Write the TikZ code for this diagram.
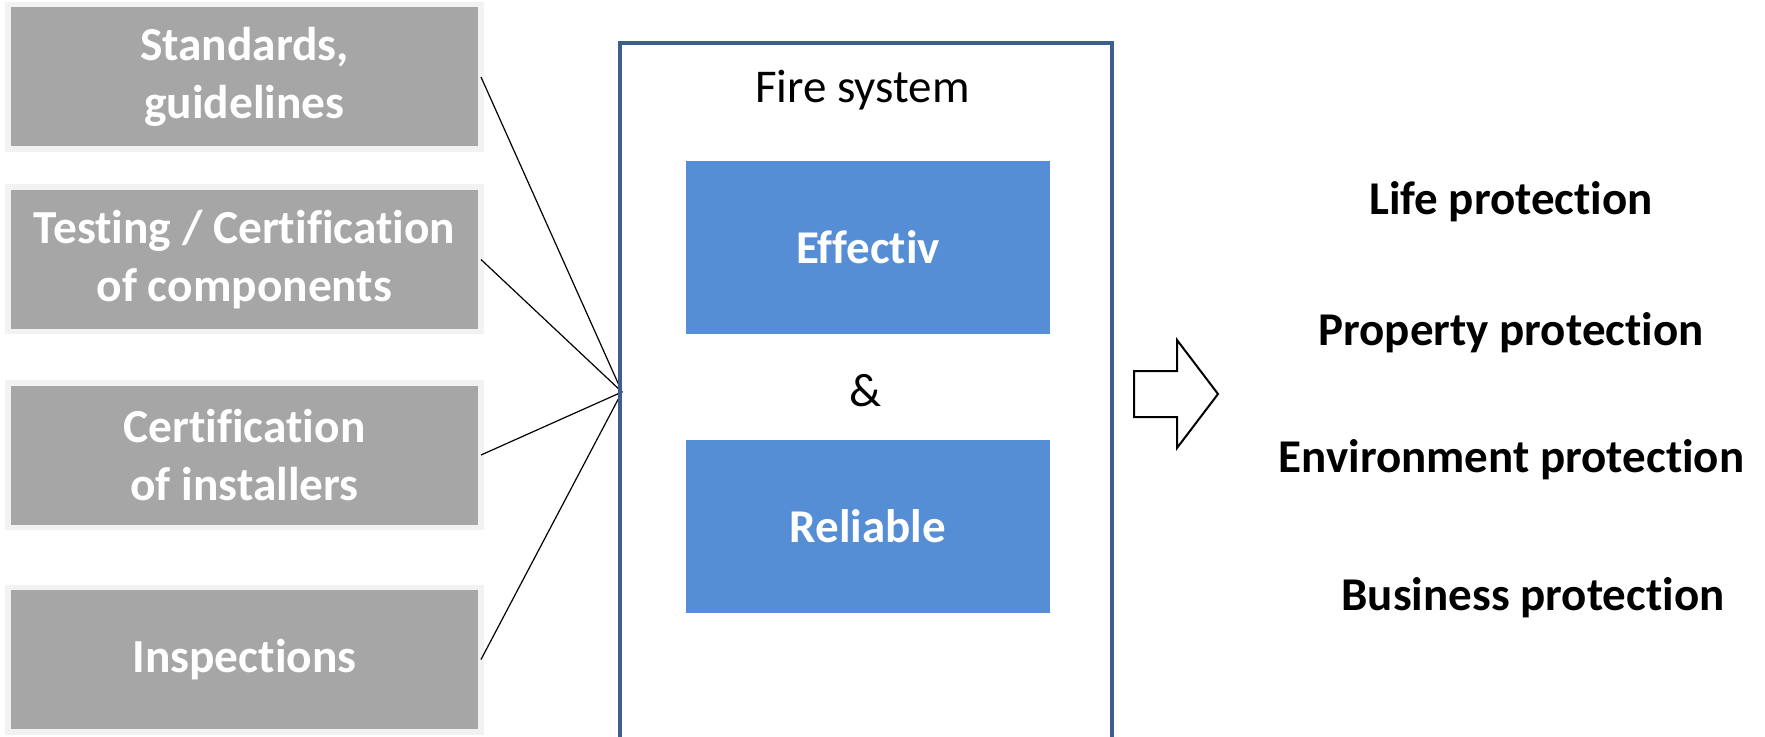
\documentclass[tikz,border=0pt]{standalone}
\usepackage{fontspec}
\setmainfont{Carlito}[Ligatures=NoCommon, RawFeature=-calt]
\definecolor{boxgray}{RGB}{166,166,166}
\definecolor{boxedge}{RGB}{242,242,242}
\definecolor{fsblue}{RGB}{85,142,213}
\definecolor{framecol}{RGB}{61,95,140}
\begin{document}
\begin{tikzpicture}[x=0.5pt,y=-0.5pt,
  txt/.style={font=\fontsize{23.5}{28.7}\selectfont},
  leftbox/.style={txt, fill=boxgray, draw=boxedge, line width=2.75pt,
    minimum width=236.5pt, minimum height=72.25pt, text=white,
    font=\fontsize{23.7}{29}\selectfont\bfseries, align=center,
    inner sep=0pt, outer sep=0pt},
  bluebox/.style={fill=fsblue, draw=none, minimum width=182pt,
    minimum height=86.5pt, text=white,
    font=\fontsize{23.5}{28.7}\selectfont\bfseries, inner sep=0pt},
  goal/.style={anchor=base, font=\fontsize{23.5}{28.7}\selectfont\bfseries, inner sep=0pt},
  conn/.style={black, line width=0.6pt},
  framebox/.style={draw=framecol, line width=2.4pt},
  blockarrow/.style={draw=black, line width=1pt, fill=white, line join=miter}
]
\path[use as bounding box] (0,0) rectangle (1765,737);
\clip (0,0) rectangle (1765,737);

% left boxes
\node[leftbox] (std) at (244.5,77) {Standards,\\guidelines};
\node[leftbox] (test) at (244.5,259.5) {Testing / Certification\\of components};
\node[leftbox] (inst) at (244.5,455) {Certification\\of installers};
\node[leftbox] (insp) at (244.5,659.5) {Inspections};

\coordinate (hub) at (622,392);
\draw[conn] (std.east) -- (hub);
\draw[conn] (test.east) -- (hub);
\draw[conn] (inst.east) -- (hub);
\draw[conn] (insp.east) -- (hub);

% fire system frame
\draw[framebox] (620,43) rectangle (1112,770);
\node[txt, anchor=base, inner sep=0pt] (fs) at (862.5,103) {Fire system};
\node[bluebox] (eff) at (868,247.5) {Effectiv};
\node[txt, anchor=base, inner sep=0pt] (amp) at (866,406) {\&};
\node[bluebox] (rel) at (868,526.5) {Reliable};

% block arrow
\draw[blockarrow] (1134,371) -- (1177,371) -- (1177,340) -- (1218,394)
  -- (1177,448) -- (1177,417) -- (1134,417) -- cycle;

% goals
\node[goal] (life) at (1511,215) {Life protection};
\node[goal] (prop) at (1511,345) {Property protection};
\node[goal] (env) at (1511.5,472) {Environment protection};
\node[goal] (bus) at (1533,610) {Business protection};
\end{tikzpicture}
\end{document}
